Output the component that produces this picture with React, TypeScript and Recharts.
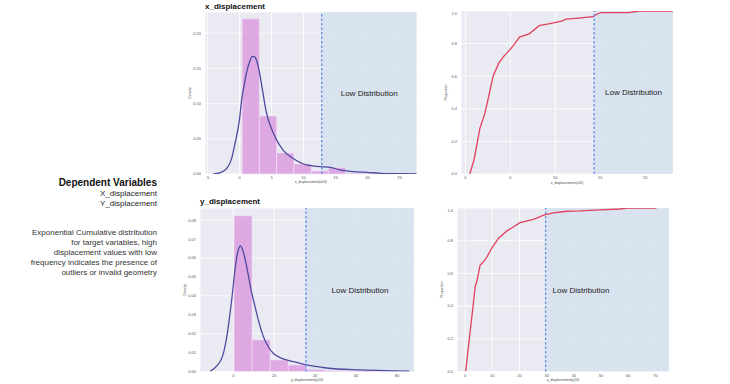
import React from 'react';
import { ComposedChart, Line, XAxis, YAxis, CartesianGrid, ReferenceArea, ReferenceLine } from 'recharts';

// x_displacement histogram + kde
const xTicksX = [-5, 0, 5, 10, 15, 20, 25];
const xDensityTicks = [0, 0.05, 0.1, 0.15, 0.2];
const xBinEdges = [0.4, 3.1, 5.8, 8.5, 11.2, 13.9, 16.6, 19.3, 22.0, 24.7];
const xBinHeights = [0.2203, 0.0824, 0.0299, 0.0142, 0.0043, 0.009, 0.0012, 0.0005, 0.0003];
const xKdeX = [-4.1, -3, -2, -1.3, -0.7, 0, 0.33, 0.8, 1.2, 1.6, 2.0, 2.4, 2.7, 3.1, 3.5, 4.2, 5.3, 6.8, 8.4, 10.5, 12.6, 14.2, 15.7, 17.8, 19.9, 22, 25.1, 27.7];
const xKdeY = [0, 0.002, 0.008, 0.02, 0.0436, 0.078, 0.105, 0.13, 0.148, 0.16, 0.167, 0.166, 0.16, 0.145, 0.124, 0.087, 0.058, 0.034, 0.022, 0.0128, 0.0104, 0.0095, 0.0057, 0.0033, 0.0024, 0.001, 0.0004, 0.0001];

// x_displacement ecdf
const xCdfTicksX = [0, 5, 10, 15, 20];
const propTicks = [0, 0.2, 0.4, 0.6, 0.8, 1.0];
const xCdfX = [0.48, 0.95, 1.6, 2.15, 2.6, 3.07, 3.7, 4.3, 4.9, 5.5, 6.0, 7.1, 8.2, 9.7, 10.8, 11.2, 12.3, 14.2, 14.6, 15.1, 18.2, 19.3, 22.2, 23.1];
const xCdfY = [0, 0.086, 0.28, 0.37, 0.48, 0.6, 0.68, 0.725, 0.76, 0.8, 0.84, 0.86, 0.91, 0.925, 0.94, 0.95, 0.955, 0.965, 0.98, 0.99, 0.99, 1.0, 1.0, 1.0];

// y_displacement histogram + kde
const yTicksX = [0, 20, 40, 60, 80];
const yDensityTicks = [0, 0.01, 0.02, 0.03, 0.04, 0.05, 0.06, 0.07, 0.08];
const yBinEdges = [0.3, 9.15, 18.0, 26.85, 35.7, 44.55, 53.4, 62.25, 71.1, 79.95];
const yBinHeights = [0.0824, 0.0167, 0.0061, 0.0034, 0.001, 0.0005, 0.0003, 0.0002, 0.0001];
const yKdeX = [-11.4, -8, -5, -3.2, -0.8, 1.3, 2.5, 3.3, 4.5, 6.5, 8.5, 10.6, 12.5, 14.7, 17, 19.5, 24, 29.3, 35.8, 45.6, 61.9, 78.2, 86];
const yKdeY = [0, 0.003, 0.009, 0.0184, 0.038, 0.058, 0.0645, 0.0664, 0.0645, 0.0555, 0.044, 0.0343, 0.026, 0.0184, 0.0132, 0.0096, 0.0068, 0.0052, 0.0034, 0.0018, 0.0008, 0.0003, 0.0001];

// y_displacement ecdf
const yCdfTicksX = [0, 10, 20, 30, 40, 50, 60, 70];
const yCdfX = [0.2, 1.6, 2.5, 3.7, 4.3, 5.5, 6.7, 8, 9.8, 12.3, 15.4, 17.8, 20.2, 25.1, 29.4, 32.5, 37.4, 42.3, 49.6, 57, 59.4, 70.4];
const yCdfY = [0, 0.21, 0.34, 0.52, 0.55, 0.65, 0.67, 0.7, 0.755, 0.815, 0.86, 0.885, 0.91, 0.93, 0.96, 0.97, 0.98, 0.982, 0.988, 0.994, 1.0, 1.0];

const FONT = '"Liberation Sans", Arial, sans-serif';

type PanelProps = {
  left: number;
  top: number;
  plotW: number;
  plotH: number;
  xDomain: [number, number];
  yDomain: [number, number];
  xTicks: number[];
  yTicks: number[];
  yDigits: number;
  xLabel: string;
  yLabel: string;
  threshold: number;
  curveX: number[];
  curveY: number[];
  curveColor: string;
  curveType: 'monotone' | 'linear';
  binEdges?: number[];
  binHeights?: number[];
  lowPos?: 'center' | 'insideLeft';
};

function Panel(p: PanelProps) {
  const yw = 20;
  const xh = 14;
  const data = p.curveX.map((x, i) => ({ x, y: p.curveY[i] }));
  const tick = { fontSize: 4, fill: '#555', fontFamily: FONT };
  return (
    <div style={{ position: 'absolute', left: p.left - yw, top: p.top }}>
      <ComposedChart width={p.plotW + yw} height={p.plotH + xh} data={data} margin={{ top: 0, right: 0, bottom: 0, left: 0 }}>
        <CartesianGrid fill="#eaeaf2" stroke="#ffffff" strokeWidth={0.8} />
        <XAxis
          dataKey="x"
          type="number"
          domain={p.xDomain}
          ticks={p.xTicks}
          allowDataOverflow
          height={xh}
          axisLine={false}
          tickLine={false}
          tickSize={0}
          tickMargin={2.5}
          tick={tick}
          label={{ value: p.xLabel, position: 'insideBottom', offset: 4.5, fontSize: 3.5, fill: '#444', fontFamily: FONT }}
        />
        <YAxis
          type="number"
          domain={p.yDomain}
          ticks={p.yTicks}
          allowDataOverflow
          width={yw}
          axisLine={false}
          tickLine={false}
          tickSize={0}
          tickMargin={4}
          tick={tick}
          tickFormatter={(v: number) => v.toFixed(p.yDigits)}
          label={{ value: p.yLabel, angle: -90, position: 'insideLeft', offset: 5, fontSize: 3.5, fill: '#444', fontFamily: FONT, style: { textAnchor: 'middle' } }}
        />
        <ReferenceArea
          x1={p.threshold}
          x2={p.xDomain[1]}
          y1={p.yDomain[0]}
          y2={p.yDomain[1]}
          fill="#d3e0ee"
          fillOpacity={0.75}
          stroke="none"
          label={{ value: 'Low Distribution', position: p.lowPos || 'center', offset: 7, fontSize: 8, fill: '#222', fontFamily: FONT }}
        />
        {p.binEdges &&
          p.binHeights &&
          p.binHeights.map((h, i) => (
            <ReferenceArea
              key={i}
              x1={p.binEdges![i]}
              x2={p.binEdges![i + 1]}
              y1={0}
              y2={h}
              fill="#dc9ee0"
              fillOpacity={0.85}
              stroke="#f4e4f6"
              strokeWidth={0.6}
            />
          ))}
        <Line type={p.curveType} dataKey="y" stroke={p.curveColor} strokeWidth={1.3} dot={false} isAnimationActive={false} />
        <ReferenceLine x={p.threshold} stroke="#5b8fe8" strokeWidth={1.3} strokeDasharray="2.5 2" />
      </ComposedChart>
    </div>
  );
}

export default function App() {
  return (
    <div style={{ position: 'absolute', left: 0, top: 0, width: 730, height: 384, background: '#fff', fontFamily: FONT, overflow: 'hidden' }}>
      <div style={{ position: 'absolute', left: 205, top: 2, fontSize: 8, lineHeight: '10px', fontWeight: 'bold', color: '#111' }}>x_displacement</div>
      <div style={{ position: 'absolute', left: 200, top: 196.7, fontSize: 8, lineHeight: '10px', fontWeight: 'bold', color: '#111' }}>y_displacement</div>

      <div style={{ position: 'absolute', left: 0, width: 157, top: 177, textAlign: 'right', color: '#222' }}>
        <div style={{ fontSize: 10, lineHeight: '12px', fontWeight: 'bold', color: '#111' }}>Dependent Variables</div>
        <div style={{ fontSize: 8, lineHeight: '10px' }}>X_displacement</div>
        <div style={{ fontSize: 8, lineHeight: '10px' }}>Y_displacement</div>
      </div>
      <div style={{ position: 'absolute', left: 0, width: 157, top: 227.7, textAlign: 'right', color: '#333', fontSize: 8, lineHeight: '10px' }}>
        Exponential Cumulative distribution
        <br />
        for target variables, high
        <br />
        displacement values with low
        <br />
        frequency indicates the presence of
        <br />
        outliers or invalid geometry
      </div>

      <Panel
        left={205}
        top={12}
        plotW={211.7}
        plotH={162}
        xDomain={[-5.4, 27.7]}
        yDomain={[0, 0.23]}
        xTicks={xTicksX}
        yTicks={xDensityTicks}
        yDigits={2}
        xLabel="x_displacement(x10)"
        yLabel="Density"
        threshold={12.85}
        curveX={xKdeX}
        curveY={xKdeY}
        curveColor="#4f4a9e"
        curveType="monotone"
        binEdges={xBinEdges}
        binHeights={xBinHeights}
      />
      <Panel
        left={461}
        top={11}
        plotW={212}
        plotH={163}
        xDomain={[-0.5, 23.1]}
        yDomain={[0, 1]}
        xTicks={xCdfTicksX}
        yTicks={propTicks}
        yDigits={1}
        xLabel="x_displacement(x10)"
        yLabel="Proportion"
        threshold={14.32}
        curveX={xCdfX}
        curveY={xCdfY}
        curveColor="#e2405c"
        curveType="linear"
      />
      <Panel
        left={200}
        top={208.3}
        plotW={214}
        plotH={163.4}
        xDomain={[-16.3, 88.3]}
        yDomain={[0, 0.0865]}
        xTicks={yTicksX}
        yTicks={yDensityTicks}
        yDigits={2}
        xLabel="y_displacement(y10)"
        yLabel="Density"
        threshold={35.5}
        curveX={yKdeX}
        curveY={yKdeY}
        curveColor="#4f4a9e"
        curveType="monotone"
        binEdges={yBinEdges}
        binHeights={yBinHeights}
      />
      <Panel
        left={457}
        top={208.3}
        plotW={212}
        plotH={163.4}
        xDomain={[-3, 75]}
        yDomain={[0, 1]}
        xTicks={yCdfTicksX}
        yTicks={propTicks}
        yDigits={1}
        xLabel="y_displacement(y10)"
        yLabel="Proportion"
        threshold={29.6}
        curveX={yCdfX}
        curveY={yCdfY}
        curveColor="#e2405c"
        curveType="linear"
        lowPos="insideLeft"
      />
    </div>
  );
}
